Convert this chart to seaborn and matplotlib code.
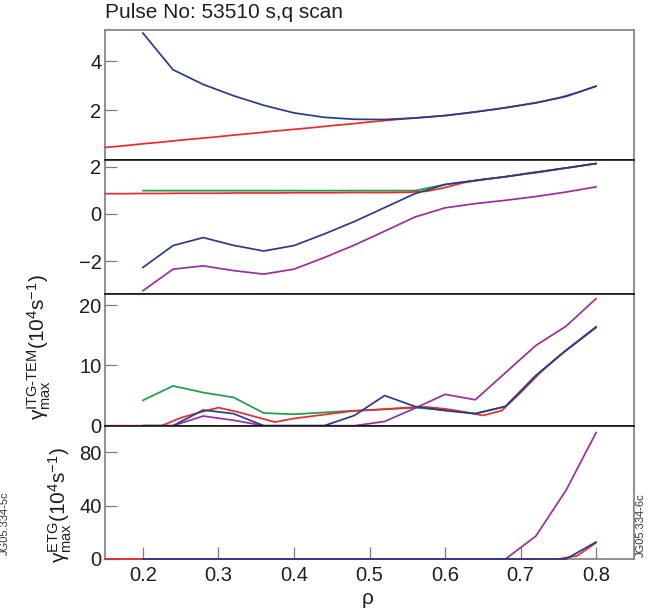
import matplotlib
matplotlib.use("Agg")
import matplotlib.pyplot as plt
import numpy as np
import pandas as pd
import seaborn as sns

# ---------------------------------------------------------------- data
# radial grid of the base case and the two scanned cases (green, purple)
rho = [0.20, 0.24, 0.28, 0.32, 0.36, 0.40, 0.44, 0.48,
       0.52, 0.56, 0.60, 0.64, 0.68, 0.72, 0.76, 0.80]
# finer radial grid of the red case
rho_red = [0.150, 0.175, 0.200, 0.225, 0.250, 0.275, 0.300, 0.325, 0.350,
           0.375, 0.400, 0.425, 0.450, 0.475, 0.500, 0.525, 0.550, 0.575,
           0.600, 0.625, 0.650, 0.675, 0.700, 0.725, 0.750, 0.775, 0.800]

# safety factor q
q_blue = [5.16, 3.66, 3.06, 2.60, 2.21, 1.90, 1.72, 1.64,
          1.63, 1.69, 1.79, 1.94, 2.11, 2.31, 2.57, 2.99]
q_red = [0.49, 0.56, 0.64, 0.71, 0.79, 0.86, 0.93, 1.01, 1.08,
         1.16, 1.23, 1.30, 1.38, 1.45, 1.53, 1.60, 1.67, 1.73,
         1.79, 1.88, 1.98, 2.09, 2.21, 2.34, 2.51, 2.73, 2.99]

# magnetic shear s
s_blue = [-2.27, -1.34, -1.00, -1.33, -1.57, -1.34, -0.85, -0.32,
          0.27, 0.86, 1.25, 1.42, 1.58, 1.77, 1.95, 2.14]
s_green = [0.99, 0.99, 0.99, 0.99, 0.99, 0.99, 0.99, 0.99,
           0.99, 0.99, 1.25, 1.42, 1.58, 1.77, 1.95, 2.14]
s_purple = [-3.26, -2.34, -2.20, -2.40, -2.55, -2.34, -1.85, -1.32,
            -0.73, -0.13, 0.26, 0.44, 0.58, 0.74, 0.93, 1.15]
s_red = [0.86, 0.86, 0.87, 0.87, 0.88, 0.88, 0.88, 0.89, 0.89,
         0.89, 0.90, 0.90, 0.90, 0.91, 0.91, 0.91, 0.92, 0.96,
         1.12, 1.33, 1.46, 1.56, 1.67, 1.77, 1.90, 2.02, 2.14]

# ITG-TEM maximum growth rate (1e4 s^-1)
itg_blue = [0.0, 0.0, 2.6, 2.0, 0.0, 0.0, 0.0, 1.7,
            5.0, 3.2, 2.5, 2.0, 3.2, 8.3, 12.5, 16.4]
itg_green = [4.2, 6.6, 5.5, 4.7, 2.1, 1.9, 2.2, 2.5,
             2.7, 3.0, 2.6, 2.0, 3.2, 8.3, 12.5, 16.4]
itg_purple = [0.0, 0.0, 1.6, 0.9, 0.0, 0.0, 0.0, 0.0,
              0.7, 2.9, 5.2, 4.3, 8.8, 13.3, 16.5, 21.1]
itg_red = [0.0, 0.0, 0.0, 0.0, 1.3, 2.2, 3.0, 2.3, 1.45,
           0.6, 1.2, 1.6, 2.0, 2.4, 2.6, 2.8, 3.0, 3.1,
           2.8, 2.3, 1.7, 2.5, 5.5, 8.7, 11.5, 13.9, 16.3]

# ETG maximum growth rate (1e4 s^-1)
etg_blue = [0.0, 0.0, 0.0, 0.0, 0.0, 0.0, 0.0, 0.0,
            0.0, 0.0, 0.0, 0.0, 0.0, 0.0, 0.0, 12.8]
etg_purple = [0.0, 0.0, 0.0, 0.0, 0.0, 0.0, 0.0, 0.0,
              0.0, 0.0, 0.0, 0.0, 0.0, 17.1, 51.5, 95.0]
etg_red = [0.0, 0.0, 0.0, 0.0, 0.0, 0.0, 0.0, 0.0, 0.0,
           0.0, 0.0, 0.0, 0.0, 0.0, 0.0, 0.0, 0.0, 0.0,
           0.0, 0.0, 0.0, 0.0, 0.0, 0.0, 0.0, 2.5, 12.3]

ytick_sets = [[2, 4], [-2, 0, 2], [0, 10, 20], [0, 40, 80]]
ylims = [(0, 5.28), (-3.38, 2.31), (0, 21.9), (0, 100)]
xticks = [0.2, 0.3, 0.4, 0.5, 0.6, 0.7, 0.8]

palette = {"green": "#19a04e", "red": "#ee2a2a",
           "purple": "#9a2e9e", "blue": "#2a3a8c"}
draw_order = ["green", "red", "purple", "blue"]


def long_frame(series):
    parts = []
    for case, (x, y) in series.items():
        parts.append(pd.DataFrame({"rho": x, "val": y, "case": case}))
    return pd.concat(parts, ignore_index=True)


panels = [
    long_frame({"red": (rho_red, q_red), "blue": (rho, q_blue)}),
    long_frame({"green": (rho, s_green), "red": (rho_red, s_red),
                "purple": (rho, s_purple), "blue": (rho, s_blue)}),
    long_frame({"green": (rho, itg_green), "red": (rho_red, itg_red),
                "purple": (rho, itg_purple), "blue": (rho, itg_blue)}),
    long_frame({"red": (rho_red, etg_red), "purple": (rho, etg_purple),
                "blue": (rho, etg_blue)}),
]

# ---------------------------------------------------------------- style
sns.set_theme(style="white")
plt.rcParams["font.family"] = ["Liberation Sans", "DejaVu Sans"]
plt.rcParams["mathtext.fontset"] = "custom"
plt.rcParams["mathtext.rm"] = "Liberation Sans"
plt.rcParams["mathtext.it"] = "Liberation Sans:italic"
plt.rcParams["mathtext.default"] = "regular"

W, H = 667, 611
fig = plt.figure(figsize=(W / 100, H / 100), dpi=100)

edges = [30, 159.5, 293.7, 425.7, 559]   # panel edges, pixels from top
left, right = 105, 634
frame_grey = "#7d7d7d"
sep_black = "#151515"

axes = []
for i, df in enumerate(panels):
    b = 1 - edges[i + 1] / H
    t = 1 - edges[i] / H
    ax = fig.add_axes([left / W, b, (right - left) / W, t - b])
    order = [c for c in draw_order if c in set(df["case"])]
    sns.lineplot(data=df, x="rho", y="val", hue="case", hue_order=order,
                 palette=palette, estimator=None, sort=False, legend=False,
                 linewidth=1.25, ax=ax)
    for ln in ax.get_lines():
        ln.set_clip_on(False)
        ln.set_zorder(3)
    ax.set_xlim(0.15, 0.85)
    ax.set_ylim(*ylims[i])
    ax.set_yticks(ytick_sets[i])
    ax.set_xticks(xticks)
    ax.set_xlabel("")
    ax.set_ylabel("")
    ax.tick_params(axis="y", direction="in", length=8.5, width=0.9,
                   color=frame_grey, labelsize=14.5, pad=2.5,
                   labelcolor="#1e1e1e", left=True)
    if i < 3:
        ax.tick_params(axis="x", bottom=False, labelbottom=False)
    else:
        ax.tick_params(axis="x", direction="in", length=9, width=0.9,
                       color=frame_grey, labelsize=14.5, pad=5,
                       labelcolor="#1e1e1e", bottom=True)
    for side in ("left", "right", "top", "bottom"):
        sp = ax.spines[side]
        sp.set_visible(True)
        sp.set_linewidth(1.2)
        sp.set_color(frame_grey)
    if i > 0:
        ax.spines["top"].set_color(sep_black)
    if i < 3:
        ax.spines["bottom"].set_color(sep_black)
    ax.set_facecolor("white")
    axes.append(ax)

# ---------------------------------------------------------------- text
fig.text(105 / W, 1 - 13 / H, "Pulse No: 53510 s,q scan", ha="left",
         va="center", fontsize=15, color="#1e1e1e")
fig.text(368 / W, 1 - 599 / H, "ρ", ha="center", va="center",
         fontsize=15, color="#1e1e1e")
fig.text(39 / W, 1 - 347 / H,
         r"$\gamma_{\mathrm{max}}^{\mathrm{ITG‐TEM}}(10^{4}\mathrm{s}^{-1})$",
         rotation=90, ha="center", va="center", fontsize=15,
         color="#1e1e1e")
fig.text(60 / W, 1 - 505 / H,
         r"$\gamma_{\mathrm{max}}^{\mathrm{ETG}}(10^{4}\mathrm{s}^{-1})$",
         rotation=90, ha="center", va="center", fontsize=15,
         color="#1e1e1e")
fig.text(5 / W, 1 - 523 / H, "JG05.334-5c", rotation=90, ha="center",
         va="center", fontsize=8, color="#333333")
fig.text(641 / W, 1 - 525 / H, "JG05.334-6c", rotation=90, ha="center",
         va="center", fontsize=8, color="#333333")

fig.savefig("out.png", dpi=100, facecolor="white")
